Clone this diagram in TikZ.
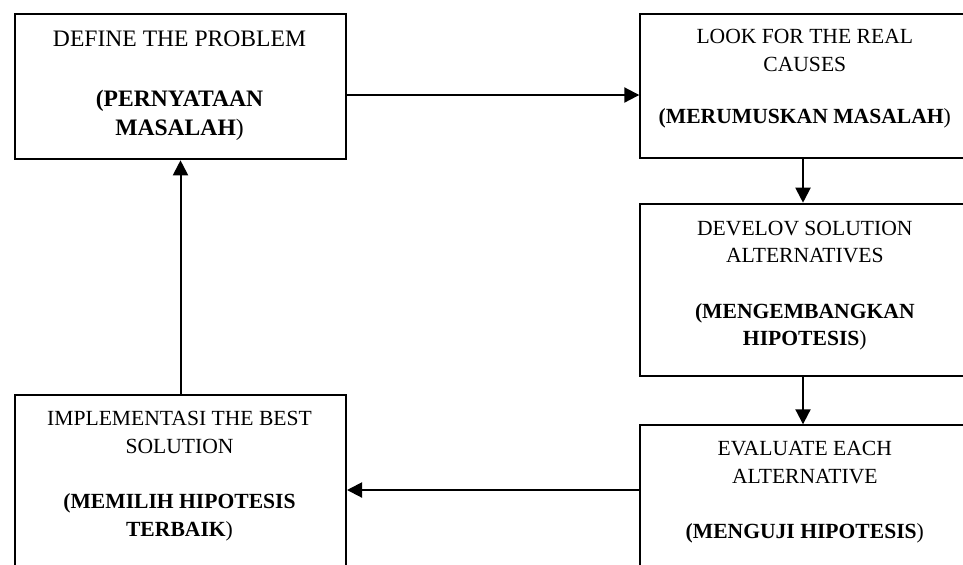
\documentclass[tikz,border=0pt]{standalone}
\usepackage{fontspec}
\setmainfont{Liberation Serif}
\usetikzlibrary{arrows.meta}

\begin{document}
\begin{tikzpicture}[x=0.5pt,y=-0.5pt,line width=1pt,
    box/.style={draw,inner sep=0pt,minimum width=165.5pt,anchor=north west},
    txt/.style={align=center,anchor=base,inner sep=0pt,
                font=\fontsize{10.8}{13.85}\selectfont},
    arr/.style={-{Triangle[length=7.5pt,width=7.5pt]}}]
  % coordinates are pixels of the 963 x 564 page, y downwards
  \clip (0,0) rectangle (963,564);

  \node[box,minimum height=72.8pt] (define) at (14,12.7) {};
  \node[box,minimum height=72.3pt] (causes) at (639.3,12.7) {};
  \node[box,minimum height=86.2pt] (develop) at (639.3,202.7) {};
  \node[box,minimum height=90pt] (implement) at (14,394.3) {};
  \node[box,minimum height=80pt] (evaluate) at (639.3,424.3) {};

  % each text sits on the baseline of its last line
  \node[txt,font=\fontsize{11.8}{14.5}\selectfont] (define-txt) at (179.5,135)
    {DEFINE THE PROBLEM\\[15.2pt]\textbf{(PERNYATAAN}\\\textbf{MASALAH})};
  \node[txt] (causes-txt) at (804.8,123.3)
    {LOOK FOR THE REAL\\CAUSES\\[12pt]\textbf{(MERUMUSKAN MASALAH})};
  \node[txt] (develop-txt) at (804.8,345.7)
    {DEVELOV SOLUTION\\ALTERNATIVES\\[13.7pt]\textbf{(MENGEMBANGKAN}\\\textbf{HIPOTESIS})};
  \node[txt] (implement-txt) at (179.5,536)
    {IMPLEMENTASI THE BEST\\SOLUTION\\[13.7pt]\textbf{(MEMILIH HIPOTESIS}\\\textbf{TERBAIK})};
  \node[txt] (evaluate-txt) at (804.8,538.3)
    {EVALUATE EACH\\ALTERNATIVE\\[13.7pt]\textbf{(MENGUJI HIPOTESIS})};

  \draw[arr] ([yshift=-4.25pt]define.east)
    -- ([yshift=-4.25pt]define.east -| causes.west);
  \draw[arr] ([xshift=-1.4pt]causes.south) -- ([xshift=-1.4pt]develop.north);
  \draw[arr] ([xshift=-1.4pt]develop.south) -- ([xshift=-1.4pt]evaluate.north);
  \draw[arr] ([yshift=-32.85pt]evaluate.north west)
    -- ([yshift=-32.85pt]evaluate.north west -| implement.east);
  \draw[arr] (implement.north) -- (define.south);
\end{tikzpicture}
\end{document}
